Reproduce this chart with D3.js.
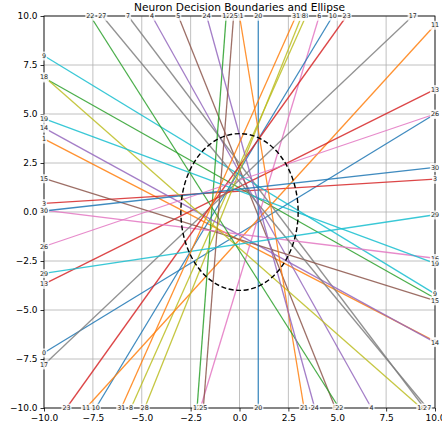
<!DOCTYPE html>
<html>
<head>
<meta charset="utf-8">
<script src="https://cdn.jsdelivr.net/npm/d3@7"></script>
<style>
body { margin: 0; background: #fff; }
svg { font-family: "DejaVu Sans", sans-serif; }
</style>
</head>
<body>
<svg id="chart" width="442" height="428"></svg>
<script>
// neuron boundary lines, each given by the two points where it meets the box
var neuronIds = d3.range(32);
var startX = [-10, -10, -10, -10, -4.48, -3.13, 4.08, -5.70, 3.40, -10, 4.77, -7.85, -0.68, -10, -10, -10,
              -10, -10, -10, -10, 0.96, 0.0, -7.63, -8.85, -1.68, -0.30, -10, -7.02, 3.18, -10, -10, 2.89];
var startY = [-7.18, 3.73, 6.85, 0.44, 10, 10, 10, 10, 10, 7.97, 10, -10, 10, -3.68, 4.29, 1.71,
              0.1, -7.79, 6.91, 4.76, 10, 10, 10, -10, 10, 10, -1.76, 10, 10, -3.13, 0.05, 10];
var endX = [10, 10, 10, 10, 6.75, 4.9, -2.0, 9.45, -5.55, 10, -7.35, 10, -2.17, 10, 10, 10,
            10, 8.86, 9.3, 10, 0.96, 3.3, 5.1, 5.48, 3.85, -1.85, 10, 9.6, -4.85, 10, 10, -6.05];
var endY = [5.0, -6.6, -4.4, 1.68, -10, -10, -10, -10, -10, -4.18, -10, 9.54, -10, 6.26, -6.65, -4.52,
            -2.36, 10, -10, -2.62, -10, -10, -10, 10, -10, -10, 5.0, -10, -10, -0.14, 2.28, -10];

var ellipseCenter = [0, 0];
var ellipseRadii = [3, 4];

var tickValues = [-10, -7.5, -5, -2.5, 0, 2.5, 5, 7.5, 10];
var palette = ["#1f77b4", "#ff7f0e", "#2ca02c", "#d62728", "#9467bd",
               "#8c564b", "#e377c2", "#7f7f7f", "#bcbd22", "#17becf"];

var margin = {top: 16, right: 7, bottom: 20, left: 44};
var W = 442, H = 428;

var svg = d3.select("#chart");

var x = d3.scaleLinear().domain([-10, 10]).range([margin.left, W - margin.right]);
var y = d3.scaleLinear().domain([-10, 10]).range([H - margin.bottom, margin.top]);

var fmt = d3.format(".1f");

// grid
svg.append("g").selectAll("line.gx")
    .data(tickValues)
  .enter().append("line")
    .attr("x1", function(d) { return x(d); })
    .attr("x2", function(d) { return x(d); })
    .attr("y1", y(-10)).attr("y2", y(10))
    .attr("stroke", "#b0b0b0").attr("stroke-width", 0.8);
svg.append("g").selectAll("line.gy")
    .data(tickValues)
  .enter().append("line")
    .attr("y1", function(d) { return y(d); })
    .attr("y2", function(d) { return y(d); })
    .attr("x1", x(-10)).attr("x2", x(10))
    .attr("stroke", "#b0b0b0").attr("stroke-width", 0.8);

// boundary lines
svg.append("g").selectAll("line.neuron")
    .data(neuronIds)
  .enter().append("line")
    .attr("class", "neuron")
    .attr("x1", function(i) { return x(startX[i]); })
    .attr("y1", function(i) { return y(startY[i]); })
    .attr("x2", function(i) { return x(endX[i]); })
    .attr("y2", function(i) { return y(endY[i]); })
    .attr("stroke", function(i) { return palette[i % 10]; })
    .attr("stroke-width", 1.3)
    .attr("stroke-opacity", 0.85);

// ellipse
svg.append("ellipse")
    .attr("cx", x(ellipseCenter[0]))
    .attr("cy", y(ellipseCenter[1]))
    .attr("rx", x(ellipseRadii[0]) - x(0))
    .attr("ry", y(0) - y(ellipseRadii[1]))
    .attr("fill", "none")
    .attr("stroke", "#000")
    .attr("stroke-width", 1.4)
    .attr("stroke-dasharray", "5,2.6");

// axes
var xAxis = d3.axisBottom(x).tickValues(tickValues).tickFormat(fmt)
    .tickSize(3.5).tickSizeOuter(0).tickPadding(3);
var yAxis = d3.axisLeft(y).tickValues(tickValues).tickFormat(fmt)
    .tickSize(3.5).tickSizeOuter(0).tickPadding(3);

var gx = svg.append("g")
    .attr("transform", "translate(0," + y(-10) + ")")
    .call(xAxis);
var gy = svg.append("g")
    .attr("transform", "translate(" + x(-10) + ",0)")
    .call(yAxis);
[gx, gy].forEach(function(g) {
    g.select(".domain").remove();
    g.selectAll("text").attr("font-size", 9).attr("fill", "#000")
      .attr("font-family", "DejaVu Sans");
    g.selectAll(".tick line").attr("stroke", "#000").attr("stroke-width", 0.8);
});

// spines
svg.append("rect")
    .attr("x", x(-10)).attr("y", y(10))
    .attr("width", x(10) - x(-10)).attr("height", y(-10) - y(10))
    .attr("fill", "none").attr("stroke", "#000").attr("stroke-width", 0.8);

// end labels
var labelData = [];
neuronIds.forEach(function(i) {
    labelData.push({id: i, px: startX[i], py: startY[i]});
    labelData.push({id: i, px: endX[i], py: endY[i]});
});
var labels = svg.append("g").selectAll("g.lab")
    .data(labelData)
  .enter().append("g")
    .attr("transform", function(d) { return "translate(" + x(d.px) + "," + y(d.py) + ")"; });
labels.append("rect");
labels.append("text")
    .attr("text-anchor", "middle")
    .attr("dy", "0.35em")
    .attr("font-size", 6.4)
    .attr("fill", "#222")
    .text(function(d) { return d.id; });
labels.each(function() {
    var g = d3.select(this);
    var bb = g.select("text").node().getBBox();
    g.select("rect")
      .attr("x", bb.x - 1).attr("y", bb.y - 0.5)
      .attr("width", bb.width + 2).attr("height", bb.height + 1)
      .attr("fill", "#fff").attr("fill-opacity", 0.8);
});

// title
svg.append("text")
    .attr("x", (x(-10) + x(10)) / 2)
    .attr("y", 11)
    .attr("text-anchor", "middle")
    .attr("font-size", 10.6)
    .text("Neuron Decision Boundaries and Ellipse");
</script>
</body>
</html>
